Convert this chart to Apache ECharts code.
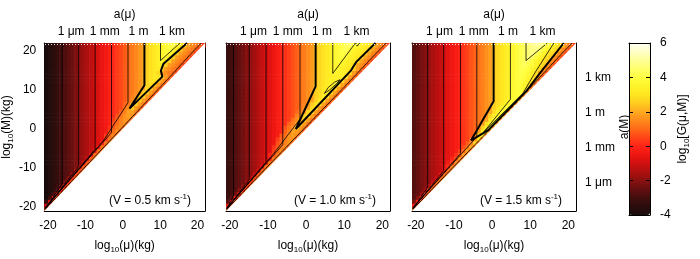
<!DOCTYPE html>
<html><head><meta charset="utf-8">
<script src="https://cdn.jsdelivr.net/npm/echarts@6/dist/echarts.min.js"></script>
<style>html,body{margin:0;padding:0;background:#fff}#c{width:700px;height:259px}</style>
</head><body><div id="c"></div>
<script>
// ---------------- data ----------------
const velocities = ['0.5', '1.0', '1.5'];           // km/s, one per panel
const muTicks = [-20, -15, -10, -5, 0, 5, 10, 15, 20];
const muLabels = [-20, -10, 0, 10, 20];
const mTicks = [-20, -15, -10, -5, 0, 5, 10, 15, 20];
const mLabels = [-20, -10, 0, 10, 20];
const sizePos = [-13.8, -4.8, 4.2, 13.2];            // log10 mass of bodies of size...
const sizeNames = ['1 μm', '1 mm', '1 m', '1 km'];
const cbTicks = [-4, -2, 0, 2, 4, 6];
const diagonal = [[-21, -21], [22, 22]];             // μ = M boundary

// far-field log10 G per column (x cell -21..21), away from the diagonal
const far1 = [-4.0,-3.75,-3.5,-3.3,-3.05,-2.8,-2.6,-2.4,-2.15,-1.9,-1.7,-1.5,-1.25,-1.0,-0.8,-0.55,-0.35,-0.1,0.1,0.35,0.55,0.8,1.0,1.25,1.45,1.7,1.9,2.65,2.9,3.1,3.35,3.55,3.8,4.0,4.25,4.45,4.7,4.9,5.15,5.4,5.6,5.85,6.0];
const far2 = [-3.25,-3.0,-2.75,-2.55,-2.3,-2.05,-1.85,-1.65,-1.4,-1.15,-0.95,-0.75,-0.5,-0.25,-0.05,0.2,0.4,0.65,0.85,1.1,1.3,1.55,1.75,2.3,2.7,2.95,3.15,3.4,3.65,3.85,4.1,4.3,4.55,4.75,5.0,5.2,5.45,5.65,5.9,6.0,6.0,6.0,6.0];
const far3 = [-2.75,-2.5,-2.25,-2.05,-1.8,-1.55,-1.35,-1.15,-0.9,-0.65,-0.45,-0.25,0.0,0.25,0.45,0.7,0.9,1.15,1.35,1.6,1.8,2.5,2.75,3.0,3.2,3.45,3.65,3.9,4.15,4.35,4.6,4.8,5.05,5.25,5.5,5.7,5.95,6.0,6.0,6.0,6.0,6.0,6.0];

// per row (y cell -21..21): values of the cells next to the diagonal, left to right, last = diagonal cell
const tails1 = [
[1.0],[-1.0,1.0],[-3.3,-0.8,1.05],[-3.1,-0.6,1.1],[-2.9,-0.5,1.1],[-2.7,-0.3,1.1],[-2.4,-0.1,1.15],[-2.2,0.1,1.15],
[-1.9,0.3,1.2],[-1.7,0.5,1.2],[-1.4,0.6,1.2],[-1.2,0.7,1.2],[-1.0,0.8,1.25],[-0.8,0.9,1.25],[-0.5,1.0,1.3],[-0.3,1.05,1.3],
[-0.1,1.1,1.3],[0.15,1.15,1.35],[0.4,1.2,1.35],
[0.3,1.0,1.4,0.9],[0.6,1.1,1.45,0.9],[0.2,0.8,1.25,1.5,0.85],[0.6,1.05,1.4,1.6,0.85],
[0.4,0.9,1.35,1.65,1.6,0.8],[0.7,1.1,1.6,1.8,1.55,0.75],[0.9,1.35,1.85,1.8,1.45,0.7],[1.15,1.6,2.55,1.8,1.35,0.65],
[0.9,1.25,1.75,2.65,1.8,1.3,0.6],[1.1,1.5,1.95,2.7,1.85,1.3,0.6],[1.35,1.7,2.55,2.7,1.8,1.3,0.6],[1.55,1.85,2.65,2.7,1.8,1.3,0.6],
[1.75,1.95,2.75,2.7,1.8,1.3,0.6],[1.9,2.65,2.85,2.7,1.8,1.25,0.55],[1.9,2.65,2.9,3.0,2.75,1.8,1.25,0.55],
[1.9,2.65,2.9,3.1,3.1,2.7,1.8,1.25,0.55],[2.9,3.05,2.75,1.85,1.55,1.25,0.95,0.4],[2.9,3.1,3.2,2.7,1.8,1.55,1.25,0.95,0.35],
[3.1,3.35,3.1,2.6,1.8,1.55,1.25,0.95,0.35],[3.1,3.35,3.55,3.1,2.6,1.8,1.55,1.25,0.95,0.35],
[3.1,3.35,3.55,3.6,3.1,2.6,1.8,1.55,1.25,0.95,0.35],[3.1,3.35,3.55,3.8,3.6,3.1,2.6,1.8,1.55,1.25,0.95,0.35],
[3.1,3.35,3.55,3.8,4.0,3.6,3.1,2.6,1.8,1.55,1.25,0.95,0.35],[3.1,3.35,3.55,3.8,4.0,4.1,3.6,3.1,2.6,1.8,1.55,1.25,0.95,0.35]
];
const tails2 = [
[1.1],[-0.6,1.1],[-2.7,-0.5,1.1],[-2.5,-0.3,1.15],[-2.2,-0.1,1.15],[-2.0,0.1,1.2],[-1.8,0.3,1.2],[-1.5,0.5,1.25],
[-1.3,0.7,1.25],[-1.1,0.85,1.3],[-0.9,0.95,1.3],[-0.6,1.05,1.35],[-0.4,1.15,1.35],[-0.2,1.2,1.4],
[0.0,0.6,1.3,1.0],[0.4,1.0,1.45,0.9],[0.2,0.8,1.25,1.5,0.85],[0.6,1.05,1.4,1.6,0.85],
[0.4,0.9,1.35,1.65,1.6,0.8],[0.7,1.1,1.6,1.8,1.55,0.75],[0.9,1.35,1.85,1.8,1.45,0.7],
[0.7,1.15,1.6,2.55,1.8,1.35,0.65],[0.9,1.25,1.75,2.65,1.8,1.3,0.6],[1.1,1.5,1.95,2.75,1.85,1.3,0.6],[1.35,1.7,2.6,2.9,1.85,1.3,0.6],
[1.0,1.35,1.75,2.7,3.0,1.85,1.3,0.6],[1.2,1.5,1.9,2.8,3.1,1.85,1.3,0.6],[1.4,1.7,2.5,2.9,3.2,1.9,1.3,0.6],[1.6,1.85,2.6,3.05,3.3,1.9,1.35,0.6],
[1.6,1.85,2.55,2.8,3.25,3.1,1.9,1.35,0.6],[1.8,2.55,2.75,3.0,3.55,3.0,1.9,1.35,0.6],
[1.8,2.55,2.75,3.0,3.25,3.6,3.0,1.9,1.35,0.6],[2.5,2.7,2.95,3.15,3.35,3.6,3.0,1.9,1.35,0.6],
[3.15,3.35,3.4,3.45,3.0,1.9,1.35,0.6],[3.3,3.4,3.4,3.3,2.9,1.9,1.35,0.6],
[3.4,3.55,3.5,3.4,3.2,2.8,1.8,1.2,0.5],[3.4,3.6,3.5,3.35,3.2,2.95,2.6,1.8,1.2,0.45],
[3.4,3.65,3.6,3.45,3.3,3.1,2.8,1.95,1.6,1.1,0.45],[3.4,3.65,3.8,3.55,3.4,3.25,3.05,2.75,1.9,1.5,1.05,0.4],
[3.4,3.65,3.85,3.85,3.55,3.4,3.25,3.05,2.75,1.9,1.5,1.05,0.4],[3.4,3.65,3.85,4.05,3.9,3.55,3.4,3.25,3.05,2.75,1.9,1.5,1.05,0.4],
[3.4,3.65,3.85,4.1,4.25,3.8,3.55,3.4,3.25,3.05,2.75,1.9,1.5,1.05,0.4],
[3.4,3.65,3.85,4.1,4.3,4.45,3.85,3.55,3.4,3.25,3.05,2.75,1.9,1.5,1.05,0.4]
];
const tails3 = [
[1.2],[-0.3,1.2],[-2.2,0.0,1.2],[-2.0,0.2,1.25],[-1.75,0.4,1.25],[-1.5,0.6,1.3],[-1.3,0.8,1.3],[-1.0,0.95,1.35],
[-0.8,1.1,1.35],[-0.6,1.2,1.3],[-0.4,1.3,1.2],
[-0.5,0.2,1.45,1.1],[-0.3,0.4,1.55,1.1],[0.0,0.6,1.65,1.1],[0.2,0.8,1.75,1.1],[0.4,1.0,1.85,1.1],[0.6,1.2,1.95,1.1],
[0.8,1.4,2.6,1.1],[1.0,1.7,2.85,1.1],
[0.7,1.5,2.9,3.2,1.1],[0.95,1.9,3.2,3.55,1.1],[1.3,2.65,3.4,3.65,1.1],[1.7,2.9,3.5,3.7,1.1],
[1.45,1.95,3.1,3.6,3.75,1.05],[1.75,2.65,3.25,3.65,3.75,1.05],[1.65,1.95,2.85,3.35,3.7,3.75,1.0],
[1.85,2.6,3.0,3.45,3.75,3.75,1.0],[2.55,2.8,3.15,3.5,3.8,3.75,1.0],[3.0,3.25,3.55,3.8,3.75,1.0],
[3.5,3.7,3.85,3.7,0.95],[3.65,3.85,3.85,3.6,0.9],[3.65,3.9,3.85,3.5,2.7,0.8],[3.65,3.9,3.85,3.55,3.1,1.8,0.7],
[3.9,4.0,3.75,3.4,2.85,1.6,0.6],[3.65,3.9,4.05,3.85,3.55,3.2,2.65,1.45,0.55],[3.9,4.1,3.95,3.65,3.3,2.9,1.9,1.25,0.45],
[3.9,4.15,4.15,3.9,3.55,3.15,2.75,1.8,1.2,0.45],[4.15,4.35,4.1,3.8,3.45,3.0,2.6,1.7,1.15,0.4],
[4.15,4.35,4.3,4.0,3.6,3.25,2.85,2.5,1.6,1.1,0.4],[4.35,4.6,4.35,3.95,3.55,3.2,2.8,2.45,1.55,1.05,0.4],
[4.35,4.6,4.75,4.4,4.0,3.55,3.2,2.8,2.45,1.55,1.05,0.4],[4.35,4.6,4.8,4.85,4.45,4.0,3.55,3.2,2.8,2.45,1.55,1.05,0.4],
[4.35,4.6,4.8,5.0,4.9,4.5,4.05,3.6,3.2,2.8,2.45,1.55,1.05,0.4]
];

// contour lines (log10 mu, log10 M)
const thin1 = [
 [[-16.2,22],[-16.2,-14.0],[-20.8,-20.6]],
 [[-11.8,22],[-11.8,-9.6],[-20.8,-20.5]],
 [[-7.4,22],[-7.4,-5.2],[-20.8,-20.4]],
 [[-3.0,22],[-3.0,-0.9],[-20.8,-20.3]],
 [[1.4,22],[1.4,6.7],[-5.1,-2.9],[-20.8,-20.2]],
 [[-20.8,-20.6],[-5,-4.6],[5,5.6],[12,12.7],[18,19.0],[21,22]],
 [[10.1,22],[10.1,17.5],[15.3,22]]
];
const thick1 = [[[5.8,22],[5.8,11.2],[1.8,5.2],[10.6,13.4],[10.2,14.9],[10.9,16.7],[17.2,22]]];
const thin2 = [
 [[-19.0,22],[-19.0,-17.0],[-20.8,-20.6]],
 [[-14.9,22],[-14.9,-12.9],[-20.8,-20.5]],
 [[-10.5,22],[-10.5,-8.5],[-20.8,-20.4]],
 [[-6.1,22],[-6.1,-4.0],[-20.8,-20.3]],
 [[-1.6,22],[-1.6,2.5],[-8.5,-6.3],[-20.8,-20.2]],
 [[-20.8,-20.6],[-10,-9.5],[0,0.6],[10,10.7],[18,19.0],[21,22]],
 [[7.0,22],[7.0,14.2],[12.7,21.7],[12.9,22]],
 [[4.8,9.1],[6.2,10.0],[8.0,11.6],[8.9,12.6],[7.5,12.0],[5.8,10.6],[4.8,9.1]],
 [[13.0,22],[13.4,21.2],[14.1,22]]
];
const thick2 = [[[2.5,22],[2.5,10.9],[-2.7,0.0],[11.8,15.0],[13.1,17.1],[18.2,22]]];
const thin3 = [
 [[-16.9,22],[-16.9,-14.9],[-20.8,-20.5]],
 [[-12.7,22],[-12.7,-10.7],[-20.8,-20.4]],
 [[-8.3,22],[-8.3,-6.3],[-20.8,-20.3]],
 [[-4.0,22],[-4.0,-2.0],[-20.8,-20.2]],
 [[-20.8,-20.6],[-10,-9.6],[0,0.5],[10,10.6],[18,19.0],[21,22]],
 [[4.8,22],[4.8,7.6],[-2.2,-0.8],[8.0,9.0],[11.5,14.8],[16.2,22]],
 [[8.9,22],[8.9,17.5],[14.5,22]]
];
const thick3 = [[[0.4,22],[0.4,7.1],[-5.5,-2.9],[-1.0,-0.3],[9.0,9.7],[12.5,14.2],[18.8,22]]];

// ---------------- chart ----------------
const FONT = '"Liberation Sans", Arial, Helvetica, sans-serif';
const palette = ['#1a0c0c','#2c0d0d','#430e0e','#640f0f','#8a1010','#ae1010','#d01010','#ee1612','#ff2418','#ff4418',
  '#ff6a18','#ff8a1c','#ffaa20','#ffcc20','#ffe620','#fff42a','#ffff40','#ffff6c','#ffff98','#ffffc8','#fffff2'];
const rich = {
  t: {fontSize: 12, fontFamily: FONT, color: '#000', lineHeight: 16},
  s: {fontSize: 8, fontFamily: FONT, color: '#000', lineHeight: 8, verticalAlign: 'bottom'},
  p: {fontSize: 8, fontFamily: FONT, color: '#000', lineHeight: 8, verticalAlign: 'top'}
};

function buildCells(far, tails) {
  const out = [];
  for (let j = -21; j <= 21; j++) {
    const tail = tails[j + 21], L = tail.length;
    for (let i = -21; i <= j; i++) {
      const d = j - i;
      out.push([i, j, d < L ? tail[L - 1 - d] : far[i + 21]]);
    }
  }
  return out;
}
function sizeFmt(v) {
  let k = 0;
  sizePos.forEach((p, idx) => { if (Math.abs(p - v) < Math.abs(sizePos[k] - v)) k = idx; });
  return sizeNames[k];
}

const panels = [
  {far: far1, tails: tails1, thin: thin1, thick: thick1},
  {far: far2, tails: tails2, thin: thin2, thick: thick2},
  {far: far3, tails: tails3, thin: thin3, thick: thick3}
];
const gridLeft = [41, 226, 412];
const grids = [], xAxes = [], yAxes = [], series = [], heatIdx = [];
const axisLine = {show: true, onZero: false, lineStyle: {color: '#000', width: 1}};
const tick = (vals, len) => ({show: true, inside: true, length: len || 5, customValues: vals, lineStyle: {color: '#000', width: 1}});
const lab = (vals, show, margin, fmt) => ({show: show, customValues: vals, fontSize: 12, fontFamily: FONT, color: '#000', margin: margin, formatter: fmt});

panels.forEach((P, p) => {
  grids.push({left: gridLeft[p], top: 43, width: 164, height: 172});
  xAxes.push({gridIndex: p, type: 'value', position: 'bottom', min: -21, max: 22, splitLine: {show: false},
    axisLine: axisLine, axisTick: tick(muTicks), axisLabel: lab(muLabels, true, 9, v => String(v)),
    name: '{t|log}{s|10}{t|(μ)(kg)}', nameLocation: 'middle', nameGap: 27, nameTextStyle: {rich: rich}});
  xAxes.push({gridIndex: p, type: 'value', position: 'top', min: -21, max: 22, splitLine: {show: false},
    axisLine: axisLine, axisTick: tick(sizePos), axisLabel: lab(sizePos, true, 5, sizeFmt),
    name: 'a(μ)', nameLocation: 'middle', nameGap: 22, nameTextStyle: {fontSize: 12, fontFamily: FONT, color: '#000'}});
  yAxes.push({gridIndex: p, type: 'value', position: 'left', min: -21, max: 22, splitLine: {show: false},
    axisLine: axisLine, axisTick: tick(mTicks), axisLabel: lab(mLabels, p === 0, 8, v => String(v)),
    name: p === 0 ? '{t|log}{s|10}{t|(M)(kg)}' : '', nameLocation: 'middle', nameGap: 23, nameRotate: 90, nameTextStyle: {rich: rich}});
  yAxes.push({gridIndex: p, type: 'value', position: 'right', min: -21, max: 22, splitLine: {show: false},
    axisLine: axisLine, axisTick: tick(sizePos), axisLabel: lab(sizePos, p === 2, 9, sizeFmt),
    name: p === 2 ? 'a(M)' : '', nameLocation: 'middle', nameGap: 40, nameRotate: 90,
    nameTextStyle: {fontSize: 12, fontFamily: FONT, color: '#000'}});
  heatIdx.push(series.length);
  series.push({type: 'custom', xAxisIndex: 2 * p, yAxisIndex: 2 * p, data: buildCells(P.far, P.tails),
    encode: {x: 0, y: 1}, clip: true, silent: true, z: 1,
    renderItem: (params, api) => {
      const x = api.value(0), y = api.value(1);
      const a = api.coord([x, y + 1]), b = api.coord([x + 1, y]);
      return {type: 'rect', shape: {x: a[0], y: a[1], width: b[0] - a[0] + 0.6, height: b[1] - a[1] + 0.6},
        style: {fill: api.visual('color')}};
    }});
  series.push({type: 'line', xAxisIndex: 2 * p, yAxisIndex: 2 * p, data: diagonal, symbol: 'none', silent: true, z: 2,
    lineStyle: {width: 0}, areaStyle: {color: '#fff', opacity: 1, origin: 'start'}});
  P.thin.forEach(c => series.push({type: 'line', xAxisIndex: 2 * p, yAxisIndex: 2 * p, data: c, symbol: 'none',
    silent: true, z: 3, clip: true, lineStyle: {color: '#000', width: 0.8}}));
  P.thick.forEach(c => series.push({type: 'line', xAxisIndex: 2 * p, yAxisIndex: 2 * p, data: c, symbol: 'none',
    silent: true, z: 3, clip: true, lineStyle: {color: '#000', width: 2}}));
});

// colour bar frame + scale
grids.push({left: 629, top: 43, width: 21, height: 172});
xAxes.push({gridIndex: 3, type: 'value', position: 'bottom', min: 0, max: 1, z: 10, axisLine: axisLine,
  axisTick: {show: false}, axisLabel: {show: false}, splitLine: {show: false}});
xAxes.push({gridIndex: 3, type: 'value', position: 'top', min: 0, max: 1, z: 10, axisLine: axisLine,
  axisTick: {show: false}, axisLabel: {show: false}, splitLine: {show: false}});
yAxes.push({gridIndex: 3, type: 'value', position: 'left', min: -4, max: 6, interval: 2, z: 10, axisLine: axisLine,
  axisTick: tick(cbTicks, 4), axisLabel: {show: false}, splitLine: {show: false}});
yAxes.push({gridIndex: 3, type: 'value', position: 'right', min: -4, max: 6, interval: 2, z: 10, axisLine: axisLine,
  axisTick: tick(cbTicks, 4), axisLabel: lab(cbTicks, true, 10, v => String(v)), splitLine: {show: false},
  name: '{t|log}{s|10}{t|[G(μ,M)]}', nameLocation: 'middle', nameGap: 25, nameRotate: 90, nameTextStyle: {rich: rich}});

const graphics = [];
velocities.forEach((v, p) => {
  graphics.push({type: 'text', x: gridLeft[p] + 109, y: 201, z: 100,
    style: {text: '{t|(V = ' + v + ' km s}{p|-1}{t|)}', rich: rich, align: 'center', verticalAlign: 'middle'}});
  graphics.push({type: 'line', z: 100, shape: {x1: gridLeft[p] + 1, y1: 44.5, x2: gridLeft[p] + 162, y2: 44.5},
    style: {stroke: '#fff', lineWidth: 1, lineDash: [1, 2], opacity: 0.85}});
});

const chart = echarts.init(document.getElementById('c'), null, {renderer: 'canvas'});
chart.setOption({
  animation: false,
  backgroundColor: '#fff',
  grid: grids, xAxis: xAxes, yAxis: yAxes, series: series,
  visualMap: {type: 'continuous', min: -4, max: 6, dimension: 2, seriesIndex: heatIdx, show: true,
    left: 629, top: 43, itemWidth: 21, itemHeight: 172, padding: 0, calculable: false, hoverLink: false,
    inRange: {color: palette}, z: 2},
  graphic: graphics
});
</script></body></html>
